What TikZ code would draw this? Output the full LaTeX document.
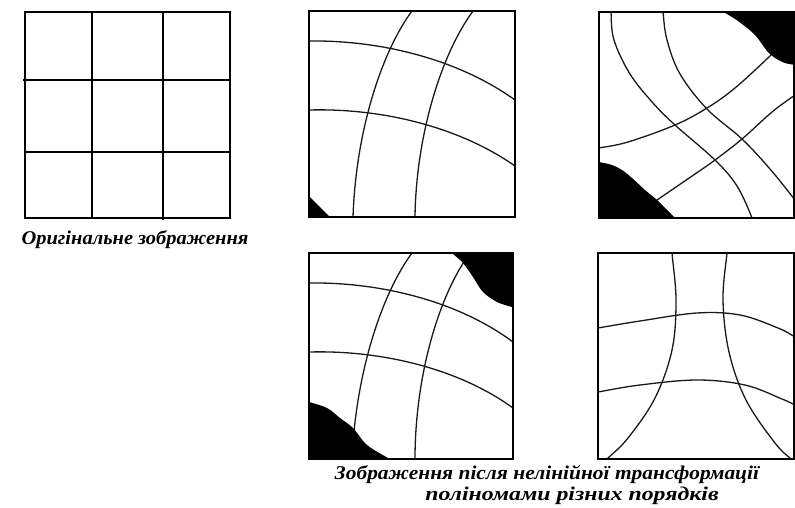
\documentclass[tikz,border=0pt]{standalone}
\usepackage{fontspec}
\setmainfont{Liberation Serif}
\begin{document}
\begin{tikzpicture}[x=1pt,y=-1pt,
  panelframe/.style={draw=black,line width=1.8pt},
  gridline/.style={draw=black,line width=1.9pt},
  warp/.style={draw=black!90,line width=1.3pt},
  swarp/.style={draw=black!90,line width=1.3pt,smooth,tension=0.6},
  blob/.style={fill=black,draw=none,smooth,tension=0.55},
  captext/.style={font=\fontsize{19.5}{22}\selectfont\bfseries\itshape,inner sep=0pt,anchor=center}]
\useasboundingbox (0,0) rectangle (795,507);
% Panel 1: original grid
\draw[gridline] (92,12) -- (92,218) (163,12) -- (163,220) (23,80) -- (230,80) (25,152) -- (230,152);
\draw[panelframe] (25,12) rectangle (230,218);
\node[captext] (c1) at (135,240) {\scalebox{1.05}[1]{Оригінальне зображення}};
% Panel 2
\begin{scope}
\clip (309,11) rectangle (515,217);
\draw[warp] (309,41) .. controls (380,40) and (458,59) .. (515,100);
\draw[warp] (309,110) .. controls (380,108) and (458,126) .. (515,166);
\draw[warp] (412,11) .. controls (383,50) and (356,128) .. (353,217);
\draw[warp] (473,11) .. controls (440,56) and (416,138) .. (415,217);
\fill[black] (309,196) .. controls (318,205) .. (330,217) -- (309,217) -- cycle;
\end{scope}
\draw[panelframe] (309,11) rectangle (515,217);
% Panel 3
\begin{scope}
\clip (599,12) rectangle (794,218);
\draw[swarp] plot coordinates {(611,0) (611,12) (614,40) (630,74) (653,103) (675,125) (715,160) (737,186) (752,218) (754,228)};
\draw[swarp] plot coordinates {(662,0) (663,12) (667,40) (680,74) (707,109) (742,139) (770,169) (795,200) (802,210)};
\draw[swarp] plot coordinates {(590,150) (599,148) (628,142) (675,125) (707,108) (735,88) (771,55) (780,45)};
\draw[swarp] plot coordinates {(650,205) (657,200) (695,174) (715,160) (742,139) (772,112) (795,95) (805,88)};
\fill[blob] plot coordinates {(715,5) (722,11) (738,21) (755,35) (767,51) (775,58) (785,63) (795,65) (802,66)} -- (802,5) -- cycle;
\fill[blob] plot coordinates {(590,160) (599,162) (612,165) (622,170) (632,178) (645,190) (657,200) (667,210) (675,218) (680,224)} -- (590,224) -- cycle;
\end{scope}
\draw[panelframe] (599,12) rectangle (794,218);
% Panel 4
\begin{scope}
\clip (309,253) rectangle (513,459);
\draw[warp] (309,283) .. controls (380,282) and (458,301) .. (513,342);
\draw[warp] (309,352) .. controls (380,350) and (458,368) .. (513,408);
\draw[warp] (412,253) .. controls (383,292) and (356,370) .. (352,459);
\draw[warp] (470,253) .. controls (437,298) and (415,380) .. (415,459);
\fill[blob] plot coordinates {(445,246) (452,253) (463,263) (473,277) (483,292) (497,302) (512,307) (520,308)} -- (520,246) -- cycle;
\fill[blob] plot coordinates {(300,400) (309,402) (327,408) (340,418) (353,428) (367,445) (388,458) (395,462)} -- (300,462) -- cycle;
\end{scope}
\draw[panelframe] (309,253) rectangle (513,459);
% Panel 5
\begin{scope}
\clip (598,253) rectangle (794,459);
\draw[swarp] plot coordinates {(672,243) (672,253) (676,300) (672,350) (655,398) (628,438) (607,459) (598,468)};
\draw[swarp] plot coordinates {(728,243) (727,253) (723,300) (729,352) (746,400) (775,443) (792,460) (800,468)};
\draw[swarp] plot coordinates {(588,330) (598,328) (640,321) (697,313) (740,315) (778,328) (795,337) (805,343)};
\draw[swarp] plot coordinates {(588,394) (598,392) (640,385) (697,380) (745,385) (782,399) (795,405) (805,410)};
\end{scope}
\draw[panelframe] (598,253) rectangle (794,459);
% Captions
\node[captext] (c2) at (547,475) {\scalebox{1.10}[1]{Зображення після нелінійної трансформації}};
\node[captext] (c3) at (572,496) {\scalebox{1.22}[1]{поліномами різних порядків}};
\end{tikzpicture}
\end{document}
